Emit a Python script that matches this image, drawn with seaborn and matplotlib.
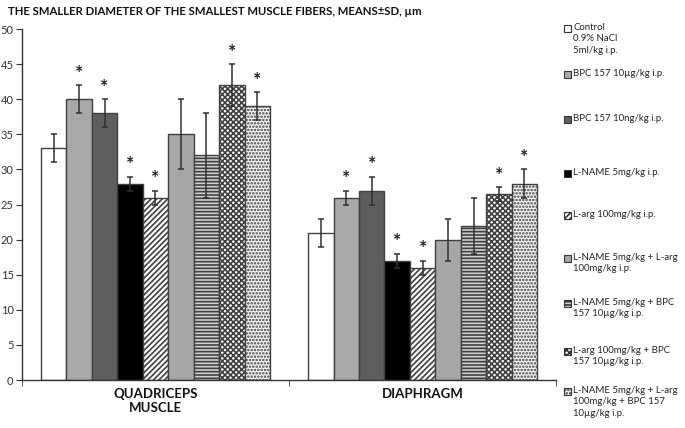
import pandas as pd
import matplotlib
matplotlib.use("Agg")
import matplotlib.pyplot as plt
from matplotlib.patches import Rectangle
import seaborn as sns

sns.set_style("white")
plt.rcParams['font.family'] = ['Lato', 'DejaVu Sans']
plt.rcParams['hatch.linewidth'] = 1.2

# data
muscles = ["QUADRICEPS\nMUSCLE", "DIAPHRAGM"]
groups = ["Control\n0.9% NaCl\n5ml/kg i.p.",
          "BPC 157 10µg/kg i.p.",
          "BPC 157 10ng/kg i.p.",
          "L-NAME 5mg/kg i.p.",
          "L-arg 100mg/kg i.p.",
          "L-NAME 5mg/kg + L-arg\n100mg/kg i.p.",
          "L-NAME 5mg/kg + BPC\n157 10µg/kg i.p.",
          "L-arg 100mg/kg + BPC\n157 10µg/kg i.p.",
          "L-NAME 5mg/kg + L-arg\n100mg/kg + BPC 157\n10µg/kg i.p."]
quad_mean = [33, 40, 38, 28, 26, 35, 32, 42, 39]
quad_sd = [2, 2, 2, 1, 1, 5, 6, 3, 2]
quad_sig = [0, 1, 1, 1, 1, 0, 0, 1, 1]
diaph_mean = [21, 26, 27, 17, 16, 20, 22, 26.5, 28]
diaph_sd = [2, 1, 2, 1, 1, 3, 4, 1, 2]
diaph_sig = [0, 1, 1, 1, 1, 0, 0, 1, 1]

# fill, hatch, hatch colour for each group
fills = ["#ffffff", "#a9a9a9", "#5e5e5e", "#000000", "#ffffff",
         "#a6a6a6", "#d0d0d0", "#ffffff", "#f4f4f4"]
hatches = [None, None, None, None, "//////", None, "-----", "xxxxxx", "....."]
hatch_cols = ["#404040", "#404040", "#404040", "#404040", "#000000",
              "#404040", "#8a8a8a", "#000000", "#c8c8c8"]

rows = []
for i, g in enumerate(groups):
    rows.append({"muscle": muscles[0], "group": g, "mean": quad_mean[i], "sd": quad_sd[i], "sig": quad_sig[i]})
    rows.append({"muscle": muscles[1], "group": g, "mean": diaph_mean[i], "sd": diaph_sd[i], "sig": diaph_sig[i]})
df = pd.DataFrame(rows)

fig = plt.figure(figsize=(6.85, 4.28), dpi=100)
ax = fig.add_axes([0.032, 0.112, 0.78, 0.82])

sns.barplot(data=df, x="muscle", y="mean", hue="group", order=muscles, hue_order=groups,
            palette=fills, width=0.857, edgecolor="#404040", linewidth=1, legend=False, ax=ax)

bar_conts = list(ax.containers)
for i, cont in enumerate(bar_conts):
    g = groups[i]
    sub = df[df.group == g].set_index("muscle").loc[muscles]
    for bar, (_, r) in zip(cont.patches, sub.iterrows()):
        if hatches[i]:
            bar.set_hatch(hatches[i])
            try:
                bar.set_hatchcolor(hatch_cols[i])
            except AttributeError:
                pass
        cx = bar.get_x() + bar.get_width() / 2
        ax.errorbar(cx, r["mean"], yerr=r["sd"], color="#303030", capsize=2.5,
                    elinewidth=1.1, capthick=1.1)
        if r["sig"]:
            ax.text(cx, r["mean"] + r["sd"] + 1.7, "*", ha="center", va="center",
                    fontsize=14, fontweight="bold", color="#202020")

ax.set_ylim(0, 50)
ax.set_xlim(-0.5, 1.5)
ax.set_yticks(range(0, 51, 5))
ax.tick_params(axis="y", labelsize=8, colors="#333333", length=4, direction="out", left=True, pad=2)
ax.set_xticks([0, 1])
ax.set_xticklabels(muscles, fontsize=9.5, fontweight="bold", color="#111111")
ax.set_xticks([-0.5, 0.5, 1.5], minor=True)
ax.tick_params(axis="x", which="major", length=0, pad=6)
ax.tick_params(axis="x", which="minor", length=4, direction="out", bottom=True, color="#333333")
ax.set_xlabel("")
ax.set_ylabel("")
sns.despine(ax=ax)
for s in ["left", "bottom"]:
    ax.spines[s].set_color("#333333")
    ax.spines[s].set_linewidth(1)

fig.text(0.012, 0.972, "THE SMALLER DIAMETER OF THE SMALLEST MUSCLE FIBERS, MEANS±SD, µm",
         fontsize=8.2, fontweight="bold", va="center", color="#111111")

# legend on the right, drawn by hand to keep the marker on the first line
leg_y = [28, 74, 119, 173, 215, 258, 303, 351, 391]
H = 428.0
W = 685.0
for i, g in enumerate(groups):
    yc = 1 - leg_y[i] / H
    sq = Rectangle((564 / W, yc - 3.5 / H), 7 / W, 7 / H, transform=fig.transFigure,
                   facecolor=fills[i], edgecolor="#333333", linewidth=0.8,
                   hatch=hatches[i])
    fig.patches.append(sq)
    fig.text(573 / W, yc + 5 / H, g, fontsize=6.9, va="top", ha="left",
             color="#222222", linespacing=1.35)

fig.savefig("out.png", dpi=100)
